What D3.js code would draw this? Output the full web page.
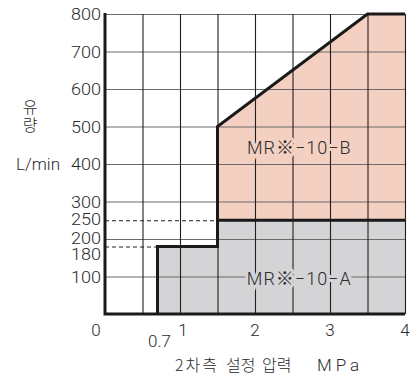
<!DOCTYPE html>
<html>
<head>
<meta charset="utf-8">
<script src="https://cdn.jsdelivr.net/npm/d3@7"></script>
<style>
  html, body { margin: 0; padding: 0; background: #fff; }
  svg { display: block; }
</style>
</head>
<body>
<svg id="chart" width="410" height="378"></svg>
<script>
// 유량 특성: MR※-10-A / MR※-10-B
const yTicks = [800, 700, 600, 500, 400, 300, 250, 200, 180, 100];
const xTicks = [2, 3, 4];
const gridX = [0.5, 1, 1.5, 2, 2.5, 3, 3.5, 4];
const gridY = [100, 200, 300, 400, 500, 600, 700, 800];

// 영역 A (회색) 경계
const bandA = [
  { p: 0.7, lo: 0, hi: 180 }, { p: 1.5, lo: 0, hi: 180 },
  { p: 1.5, lo: 0, hi: 250 }, { p: 4, lo: 0, hi: 250 }
];
// 영역 B (분홍) 경계
const bandB = [
  { p: 1.5, lo: 250, hi: 500 }, { p: 3.5, lo: 250, hi: 800 }, { p: 4, lo: 250, hi: 800 }
];
// 굵은 외곽선
const outline = [[0.7, 0], [0.7, 180], [1.5, 180], [1.5, 500], [3.5, 800], [4, 800]];
const lineA = [[1.5, 250], [4, 250]];

const FONT = "Roboto, 'Liberation Sans', Arial, 'Noto Sans CJK KR', sans-serif";
const KFONT = "'Noto Sans CJK KR', sans-serif";
const TXT = '#2a2a2a';

const svg = d3.select('#chart');
const L = 105, R = 405, T = 14, B = 314;
const x = d3.scaleLinear().domain([0, 4]).range([L, R]);
const y = d3.scaleLinear().domain([0, 800]).range([B, T]);

// 채움
svg.append('path').datum(bandA)
  .attr('d', d3.area().x(d => x(d.p)).y0(d => y(d.lo)).y1(d => y(d.hi)))
  .attr('fill', '#D4D4D6');
svg.append('path').datum(bandB)
  .attr('d', d3.area().x(d => x(d.p)).y0(d => y(d.lo)).y1(d => y(d.hi)))
  .attr('fill', '#F3D0C1');

// 격자
svg.append('g').selectAll('line').data(gridY).join('line')
  .attr('x1', L).attr('x2', R)
  .attr('y1', d => y(d) + 0.5).attr('y2', d => y(d) + 0.5)
  .attr('stroke', '#6a6a6a').attr('stroke-width', 1.2);
svg.append('g').selectAll('line').data(gridX).join('line')
  .attr('x1', d => x(d) + 0.5).attr('x2', d => x(d) + 0.5)
  .attr('y1', T).attr('y2', B)
  .attr('stroke', '#1f1f1f').attr('stroke-width', 1.1);

// 점선
svg.append('g').selectAll('line').data([[250, 1.5], [180, 0.7]]).join('line')
  .attr('x1', L).attr('x2', d => x(d[1]))
  .attr('y1', d => y(d[0]) + 0.5).attr('y2', d => y(d[0]) + 0.5)
  .attr('stroke', '#222').attr('stroke-width', 1)
  .attr('stroke-dasharray', '4,3');

// 영역 라벨 (배경색 할로)
function bandLabel(txt, v, bg) {
  svg.append('text').text(txt)
    .attr('x', x(2.59)).attr('y', y(v))
    .attr('text-anchor', 'middle').attr('dominant-baseline', 'central')
    .attr('font-family', FONT).attr('font-weight', 300).style('font-size', '18px').attr('fill', TXT)
    .style('letter-spacing', '1px')
    .attr('paint-order', 'stroke').attr('stroke', bg).attr('stroke-width', 6);
}
bandLabel('MR\u203B\u221210\u2212B', 445, '#F3D0C1');
bandLabel('MR\u203B\u221210\u2212A', 96, '#D4D4D6');

// 굵은 선
const line = d3.line().x(d => x(d[0])).y(d => y(d[1]));
svg.append('path').attr('d', line(outline))
  .attr('fill', 'none').attr('stroke', '#1a1a1a').attr('stroke-width', 3)
  .attr('stroke-linejoin', 'miter');
svg.append('path').attr('d', line(lineA))
  .attr('fill', 'none').attr('stroke', '#1a1a1a').attr('stroke-width', 3);
// 축
svg.append('path').attr('d', `M${L},${T - 1}V${B}H${R}`)
  .attr('fill', 'none').attr('stroke', '#1a1a1a').attr('stroke-width', 3);

// y 눈금 라벨
const yShift = { 250: -1, 200: -1, 180: 7 };
svg.append('g').selectAll('text').data(yTicks).join('text')
  .text(d => d)
  .attr('x', L - 4).attr('y', d => y(d) + (yShift[d] || 0))
  .attr('text-anchor', 'end').attr('dominant-baseline', 'central')
  .attr('font-family', FONT).attr('font-weight', 300).style('font-size', '17px').attr('fill', TXT)
  .attr('textLength', 30).attr('lengthAdjust', 'spacingAndGlyphs');

// x 눈금 라벨
function xLabel(t, px, py) {
  svg.append('text').text(t).attr('x', px).attr('y', py).attr('text-anchor', 'middle')
    .attr('font-family', FONT).attr('font-weight', 300).style('font-size', '17px').attr('fill', TXT);
}
xTicks.forEach(d => xLabel(d, x(d), 336));
xLabel('0', 96, 336);
xLabel('1', x(1) + 3, 336);
xLabel('0.7', x(0.7) + 2, 347);

// 축 제목 (x)
const xt = svg.append('text').attr('y', 371)
  .attr('font-family', KFONT).attr('font-weight', 300).style('font-size', '16px').attr('fill', TXT);
xt.append('tspan').attr('x', 175).style('letter-spacing', '2px').text('2차측');
xt.append('tspan').attr('x', 226).text('설정');
xt.append('tspan').attr('x', 262).text('압력');
xt.append('tspan').attr('x', 317).attr('font-family', FONT).style('font-size', '17px')
  .style('letter-spacing', '4px').text('MPa');

// 축 제목 (y) - 세로쓰기
svg.append('text').text('유량')
  .attr('x', 30).attr('y', 99)
  .attr('writing-mode', 'vertical-rl')
  .style('letter-spacing', '2px')
  .attr('font-family', KFONT).attr('font-weight', 300).style('font-size', '16px').attr('fill', TXT);
svg.append('text').text('L/min')
  .attr('x', 60).attr('y', y(400))
  .attr('text-anchor', 'end').attr('dominant-baseline', 'central')
  .attr('font-family', FONT).attr('font-weight', 300).style('font-size', '17px').attr('fill', TXT);
</script>
</body>
</html>
